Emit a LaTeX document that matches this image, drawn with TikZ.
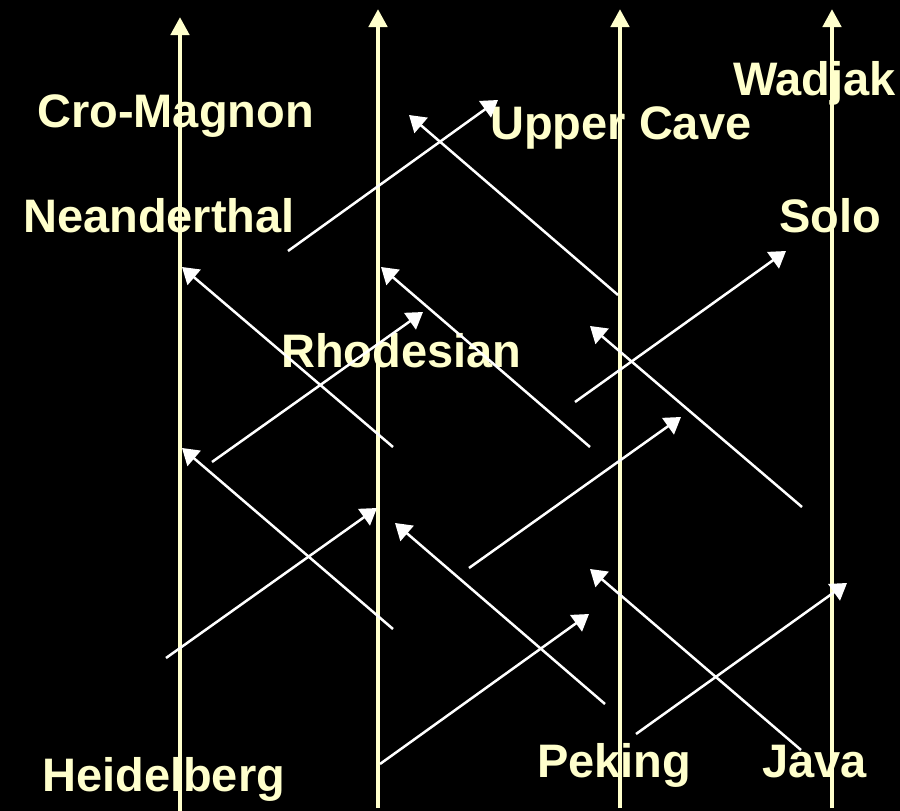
\documentclass[tikz,border=0pt]{standalone}
\usepackage{fontspec}
\setmainfont{Liberation Sans}
\usepackage{tikz}
\usetikzlibrary{arrows.meta}
\definecolor{pale}{HTML}{FFFFCC}

\tikzset{
  lineage/.style={pale, line width=4.5pt, -{Triangle[length=18pt,width=18pt]}},
  migration/.style={white, line width=2.5pt, -{Triangle[length=16pt,width=20pt]}},
  fossil/.style={pale, anchor=base west, inner sep=0pt,
    font=\bfseries\fontsize{47}{50}\selectfont}
}

\begin{document}
\begin{tikzpicture}[x=1pt,y=-1pt]
% Background
\useasboundingbox (0,0) rectangle (900,811);
\fill[black] (-10,-10) rectangle (910,821);

% Regional lineages
\coordinate (base1) at (180,815); \coordinate (top1) at (180,17);
\coordinate (base2) at (378,808); \coordinate (top2) at (378,9);
\coordinate (base3) at (620,808); \coordinate (top3) at (620,9);
\coordinate (base4) at (832,808); \coordinate (top4) at (832,9);
\foreach \i in {1,...,4}
  \draw[lineage] (base\i) -- (top\i);

% Fossil names
\node[fossil] (cromagnon) at (37,127) {Cro-Magnon};
\node[fossil] (neanderthal) at (23,232) {Neanderthal};
\node[fossil] (uppercave) at (490,139) {Upper Cave};
\node[fossil] (wadjak) at (733,95) {Wadjak};
\node[fossil] (solo) at (779,232) {Solo};
\node[fossil] (rhodesian) at (281,367) {Rhodesian};
\node[fossil] (heidelberg) at (42,791) {Heidelberg};
\node[fossil] (peking) at (537,777) {Peking};
\node[fossil] (java) at (762,777) {Java};

% Gene flow between regions
\foreach \n/\xa/\ya/\xb/\yb in {
  1/288/251/498/100, 2/618/295/409/115, 3/393/447/182/267,
  4/212/462/423/312, 5/590/447/381/267, 6/575/402/786/251,
  7/802/507/590/326, 8/393/629/182/448, 9/166/658/377/508,
  10/469/568/681/417, 11/605/704/395/523, 12/380/764/589/614,
  13/636/734/847/583, 14/801/750/590/569}
{
  \coordinate (src\n) at (\xa,\ya);
  \coordinate (dst\n) at (\xb,\yb);
  \draw[migration] (src\n) -- (dst\n);
}
\end{tikzpicture}
\end{document}
